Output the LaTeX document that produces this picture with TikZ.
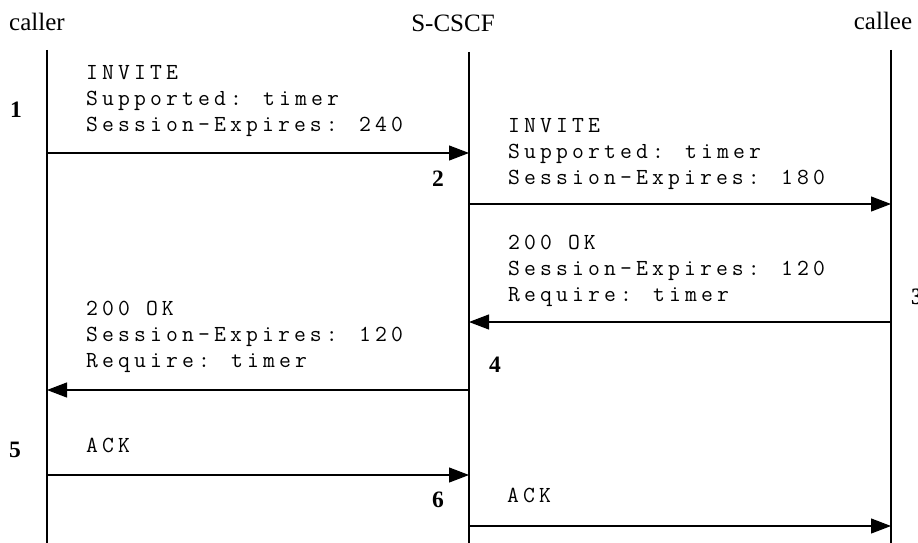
\documentclass[tikz,border=0pt]{standalone}
\usepackage{fontspec}
\setmainfont{Liberation Serif}
\newfontfamily\msgfont[LetterSpace=18,WordSpace={1,0,0}]{Latin Modern Mono}
\usetikzlibrary{arrows.meta}
\begin{document}
\begin{tikzpicture}[x=1pt,y=-1pt,
  lifeline/.style={line width=1.8pt},
  msg/.style={line width=1.1pt,-{Triangle[length=20pt,width=15pt]}},
  msgtext/.style={anchor=south west,inner sep=0pt,text depth=0pt,align=left,
    font=\msgfont\fontsize{23}{26}\selectfont},
  actor/.style={inner sep=0pt,anchor=base,font=\fontsize{25}{29}\selectfont},
  stepnum/.style={inner sep=0pt,font=\bfseries\fontsize{23.5}{27}\selectfont}]
\useasboundingbox (0,0) rectangle (918,543);
% actors
\node[actor] (caller) at (37,31) {caller};
\node[actor] (scscf) at (453,32) {S-CSCF};
\node[actor] (callee) at (883,30) {callee};
% lifeline ends
\coordinate (caT) at (47,50);  \coordinate (caB) at (47,543);
\coordinate (scT) at (469,52); \coordinate (scB) at (469,543);
\coordinate (ceT) at (891,50); \coordinate (ceB) at (891,543);
\draw[lifeline] (caT) -- (caB);
\draw[lifeline] (scT) -- (scB);
\draw[lifeline] (ceT) -- (ceB);
% message anchor points
\coordinate (ca1) at (47,153);  \coordinate (sc1) at (469,153);
\coordinate (sc2) at (469,204); \coordinate (ce2) at (891,204);
\coordinate (ce3) at (891,322); \coordinate (sc3) at (469,322);
\coordinate (sc4) at (469,390); \coordinate (ca4) at (47,390);
\coordinate (ca5) at (47,475);  \coordinate (sc5) at (469,475);
\coordinate (sc6) at (469,526); \coordinate (ce6) at (891,526);
% messages
\draw[msg] (ca1) -- (sc1);
\draw[msg] (sc2) -- (ce2);
\draw[msg] (ce3) -- (sc3);
\draw[msg] (sc4) -- (ca4);
\draw[msg] (ca5) -- (sc5);
\draw[msg] (sc6) -- (ce6);
% texts
\node[msgtext] (t1) at (86,132) {INVITE\\Supported: timer\\Session-Expires: 240};
\node[msgtext] (t2) at (508,185) {INVITE\\Supported: timer\\Session-Expires: 180};
\node[msgtext] (t3) at (508,302) {200 OK\\Session-Expires: 120\\Require: timer};
\node[msgtext] (t4) at (86,368) {200 OK\\Session-Expires: 120\\Require: timer};
\node[msgtext] (t5) at (86,453) {ACK};
\node[msgtext] (t6) at (507,503) {ACK};
% step numbers
\node[stepnum] (n1) at (16,110) {1};
\node[stepnum] (n2) at (438,179) {2};
\node[stepnum] (n3) at (917,297) {3};
\node[stepnum] (n4) at (495,365) {4};
\node[stepnum] (n5) at (15,450) {5};
\node[stepnum] (n6) at (438,500) {6};
\end{tikzpicture}
\end{document}
